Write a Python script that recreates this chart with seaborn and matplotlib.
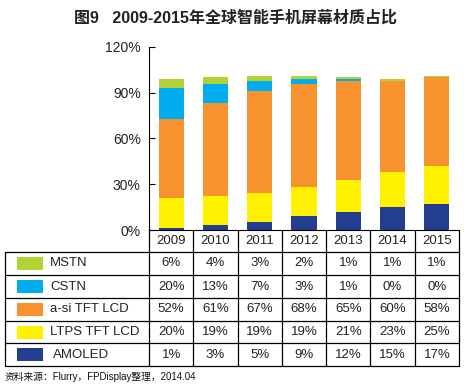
import seaborn as sns
import matplotlib.pyplot as plt
import numpy as np

years = ["2009", "2010", "2011", "2012", "2013", "2014", "2015"]
amoled = [1, 3, 5, 9, 12, 15, 17]
ltps = [20, 19, 19, 19, 21, 23, 25]
asi = [52, 61, 67, 68, 65, 60, 58]
cstn = [20, 13, 7, 3, 1, 0, 0]
mstn = [6, 4, 3, 2, 1, 1, 1]

series_names = ["MSTN", "CSTN", "a-si TFT LCD", "LTPS TFT LCD", "AMOLED"]
series_values = [mstn, cstn, asi, ltps, amoled]
colors = ["#B2D235", "#00AEEF", "#F7922F", "#FFF000", "#233E8E"]

W, H = 474, 387
sns.set_style("white")
plt.rcParams["font.family"] = ["Liberation Sans", "Noto Sans CJK SC", "DejaVu Sans"]

fig = plt.figure(figsize=(W / 100, H / 100), dpi=100)

# bar area in pixels
x0, x1 = 149, 459
y_top, y_bot = 47, 230
ax = fig.add_axes([x0 / W, 1 - y_bot / H, (x1 - x0) / W, (y_bot - y_top) / H])

# stacked bars: draw cumulative totals from the top segment down
stack = np.array(series_values[::-1], dtype=float) / 100  # bottom -> top
cum = np.cumsum(stack, axis=0)
n = len(series_names)
for i in range(n - 1, -1, -1):
    sns.barplot(x=years, y=cum[i], color=colors[n - 1 - i],
                saturation=1, width=0.57, ax=ax, edgecolor="none")

ax.set_xlim(-0.5, len(years) - 0.5)
ax.set_ylim(0, 1.2)
ax.set_yticks([0, 0.3, 0.6, 0.9, 1.2])
ax.set_yticklabels(["0%", "30%", "60%", "90%", "120%"], fontsize=10, color="#222222")
ax.set_xticks([])
ax.set_xlabel("")
ax.set_ylabel("")
ax.tick_params(axis="y", direction="in", length=4, width=0.8, color="black", pad=6, left=True)
for s in ["top", "right"]:
    ax.spines[s].set_visible(False)
for s in ["left", "bottom"]:
    ax.spines[s].set_color("black")
    ax.spines[s].set_linewidth(0.8)

# table overlay in pixel coordinates
tab = fig.add_axes([0, 0, 1, 1], facecolor="none")
tab.set_xlim(0, W)
tab.set_ylim(H, 0)
tab.axis("off")

row_lines = [252, 275, 298, 321, 343, 366]
left = 5
col_w = (x1 - x0) / len(years)
lw = 0.9
for y in row_lines:
    tab.plot([left, x1], [y, y], color="black", lw=lw)
tab.plot([left, left], [row_lines[0], row_lines[-1]], color="black", lw=lw)
for j in range(len(years) + 1):
    x = x0 + j * col_w
    tab.plot([x, x], [y_bot, row_lines[-1]], color="black", lw=lw)

fs = 9.5
for j, yr in enumerate(years):
    tab.text(x0 + (j + 0.5) * col_w, (y_bot + row_lines[0]) / 2 + 0.5, yr,
             ha="center", va="center", fontsize=fs, color="#222222")

for r, (name, vals, c) in enumerate(zip(series_names, series_values, colors)):
    yc = (row_lines[r] + row_lines[r + 1]) / 2
    tab.add_patch(plt.Rectangle((17, yc - 6.5), 26, 13, color=c, lw=0))
    tx = 53 if name == "AMOLED" else 50
    tab.text(tx, yc, name, ha="left", va="center", fontsize=fs, color="#222222")
    for j, v in enumerate(vals):
        tab.text(x0 + (j + 0.5) * col_w, yc, f"{v}%", ha="center", va="center",
                 fontsize=fs, color="#222222")

fig.text(236 / W, 1 - 18 / H, "图9   2009-2015年全球智能手机屏幕材质占比",
         ha="center", va="center", fontsize=11.5, fontweight="bold", color="#222222")
fig.text(5 / W, 1 - 377 / H, "资料来源：Flurry，FPDisplay整理，2014.04",
         ha="left", va="center", fontsize=7, color="#111111")

fig.savefig("out.png", dpi=100)
